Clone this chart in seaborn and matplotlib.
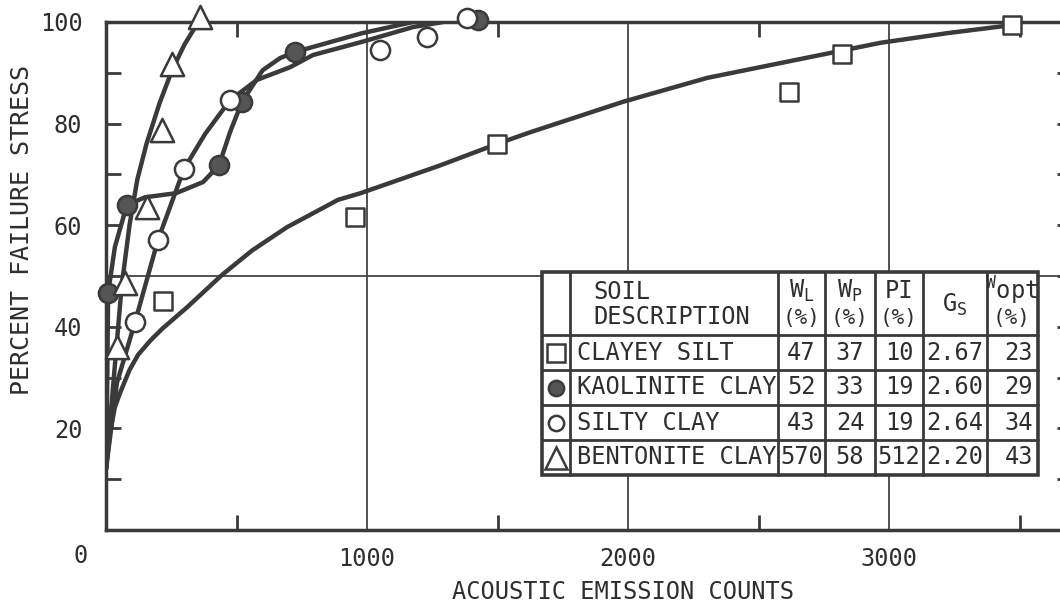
import matplotlib
matplotlib.use("Agg")
import matplotlib.pyplot as plt
import seaborn as sns
import pandas as pd

# measured points (acoustic emission counts, percent failure stress)
silt_x = [218, 954, 1498, 2617, 2820, 3471]
silt_y = [45.1, 61.6, 76.0, 86.2, 93.7, 99.4]
kaol_x = [8, 80, 433, 521, 724, 1425]
kaol_y = [46.6, 64.0, 71.8, 84.3, 94.1, 100.4]
silty_x = [111, 199, 299, 475, 1050, 1230, 1383]
silty_y = [40.9, 57.1, 71.1, 84.6, 94.5, 97.0, 100.8]
bent_x = [42, 73, 157, 215, 253, 360]
bent_y = [36.0, 48.6, 63.6, 78.7, 91.7, 101.0]

# fitted curves
silt_cx = [0, 15, 34, 54, 90, 123, 170, 215, 314, 444, 559, 693, 889, 975, 1276, 1498,
           1625, 1981, 2303, 2774, 2966, 3222, 3471]
silt_cy = [12, 19, 24.2, 27, 31.5, 34.5, 37.3, 39.6, 44, 50.2, 55, 59.6, 65, 66.3, 71.7, 76,
           78.3, 84.3, 89, 93.9, 95.9, 97.8, 99.4]
kaol_cx = [0, 5, 8, 34, 80, 150, 268, 372, 433, 475, 521, 600, 667, 724, 981, 1176, 1425]
kaol_cy = [12, 30, 46.6, 55.7, 64, 65.5, 66.3, 68.5, 71.8, 78.3, 84.3, 90.5, 92.9,
           94.1, 97.8, 100, 100.4]
silty_cx = [0, 42, 111, 199, 299, 380, 475, 578, 705, 793, 981, 1176, 1383]
silty_cy = [12, 29, 40.9, 57.1, 71.1, 78.0, 84.6, 88.6, 91.1, 93.5, 96.1, 99, 100.8]
bent_cx = [0, 20, 40, 60, 90, 120, 155, 205, 253, 300, 358]
bent_cy = [12, 24, 36, 48, 60, 69, 76, 84, 90.5, 95.5, 100.4]

# soil property table
soil_names = ["CLAYEY SILT", "KAOLINITE CLAY", "SILTY CLAY", "BENTONITE CLAY"]
w_l = ["47", "52", "43", "570"]
w_p = ["37", "33", "24", "58"]
p_i = ["10", "19", "19", "512"]
g_s = ["2.67", "2.60", "2.64", "2.20"]
w_opt = ["23", "29", "34", "43"]

ink = "#3a3a3a"
txt = "#2e2e2e"
mono = "DejaVu Sans Mono"

sns.set_style("white")
plt.rcParams["font.family"] = [mono, "DejaVu Sans"]

fig = plt.figure(figsize=(10.6, 6.06), dpi=100)
ax = fig.add_axes([0.1, 0.1254, 0.9113, 0.8383])

series = [
    (silt_x, silt_y, silt_cx, silt_cy, "s", "white", 160),
    (kaol_x, kaol_y, kaol_cx, kaol_cy, "o", "#555555", 190),
    (silty_x, silty_y, silty_cx, silty_cy, "o", "white", 190),
    (bent_x, bent_y, bent_cx, bent_cy, "^", "white", 280),
]
for px, py, cx, cy, mk, fc, sz in series:
    curve = pd.DataFrame({"x": cx, "y": cy})
    sns.lineplot(data=curve, x="x", y="y", ax=ax, color=ink, lw=3.2,
                 sort=False, estimator=None, zorder=3)
    pts = pd.DataFrame({"x": px, "y": py})
    sns.scatterplot(data=pts, x="x", y="y", ax=ax, marker=mk, s=sz,
                    facecolor=fc, edgecolor=ink, linewidth=1.8, zorder=4,
                    clip_on=False)

ax.set_xlim(0, 3700)
ax.set_ylim(0, 100)

ax.set_xticks([0, 1000, 2000, 3000])
ax.set_xticklabels(["", "1000", "2000", "3000"])
ax.set_xticks([500, 1500, 2500, 3500], minor=True)
ax.set_yticks([20, 40, 60, 80, 100])
ax.set_yticks([10, 30, 50, 70, 90], minor=True)

ax.tick_params(axis="x", which="major", length=0, pad=12, labelsize=17, labelcolor=txt)
ax.tick_params(axis="x", which="minor", direction="in", length=11, width=2,
               color=ink, top=True, bottom=True)
ax.tick_params(axis="y", which="both", direction="in", length=11, width=2,
               color=ink, left=True, right=True, pad=17, labelsize=17, labelcolor=txt)

ax.grid(False)
for xv in [1000, 2000, 3000]:
    ax.axvline(xv, color="#444444", lw=1.3, zorder=1)
ax.axhline(50, color="#444444", lw=1.3, zorder=1)

for sp in ax.spines.values():
    sp.set_color(ink)
    sp.set_linewidth(2.5)

ax.annotate("0", xy=(0, 0), xytext=(-25, -26), textcoords="offset pixels",
            ha="center", va="center", fontsize=17, color=txt, annotation_clip=False)

ax.set_xlabel("ACOUSTIC EMISSION COUNTS", fontsize=17, color=txt)
ax.set_ylabel("PERCENT FAILURE STRESS", fontsize=18, color=txt)
ax.xaxis.set_label_coords(0.535, -0.098)
ax.yaxis.set_label_coords(-0.075, 0.59)

# table overlay in pixel coordinates
tab = fig.add_axes([0, 0, 1, 1], zorder=5)
tab.set_xlim(0, 1060)
tab.set_ylim(606, 0)
tab.axis("off")
tab.patch.set_alpha(0)

cols = [542, 570, 778, 825, 875, 923, 987, 1038]
rows = [272, 335, 370, 405, 440, 475]
tab.add_patch(plt.Rectangle((cols[0], rows[0]), cols[-1] - cols[0], rows[-1] - rows[0],
                            facecolor="white", edgecolor=ink, lw=2.6, zorder=1))
for cx_ in cols[1:-1]:
    tab.plot([cx_, cx_], [rows[0], rows[-1]], color=ink, lw=2.0, zorder=2)
for ry in rows[1:-1]:
    tab.plot([cols[0], cols[-1]], [ry, ry], color=ink, lw=2.0, zorder=2)

fs = 17
tab.text(593, 292, "SOIL", fontsize=fs, color=txt, va="center", ha="left")
tab.text(593, 317, "DESCRIPTION", fontsize=fs, color=txt, va="center", ha="left")
heads = [r"W$\mathregular{_L}$", r"W$\mathregular{_P}$", "PI", None,
         r"$\mathregular{^W}$opt"]
centers = [801.5, 850, 899, 955, 1012]
for h, cxp in zip(heads, centers):
    if h is None:
        continue
    tab.text(cxp, 291, h, fontsize=fs, color=txt, ha="center", va="center")
    tab.text(cxp, 318, "(%)", fontsize=fs - 2, color=txt, ha="center", va="center")
tab.text(955, 305, r"G$\mathregular{_S}$", fontsize=fs, color=txt, ha="center", va="center")

sym = [("s", "white", 13), ("o", "#555555", 11), ("o", "white", 11), ("^", "white", 16)]
for i, name in enumerate(soil_names):
    yc = (rows[i + 1] + rows[i + 2]) / 2
    mk, fc, ms = sym[i]
    tab.plot([556], [yc], marker=mk, ms=ms, mfc=fc, mec=ink, mew=1.8, ls="none", zorder=3)
    tab.text(577, yc, name, fontsize=fs, color=txt, ha="left", va="center")
    tab.text(801.5, yc, w_l[i], fontsize=fs, color=txt, ha="center", va="center")
    tab.text(850, yc, w_p[i], fontsize=fs, color=txt, ha="center", va="center")
    tab.text(899, yc, p_i[i], fontsize=fs, color=txt, ha="center", va="center")
    tab.text(955, yc, g_s[i], fontsize=fs, color=txt, ha="center", va="center")
    tab.text(1033, yc, w_opt[i], fontsize=fs, color=txt, ha="right", va="center")

fig.savefig("out.png", dpi=100)
